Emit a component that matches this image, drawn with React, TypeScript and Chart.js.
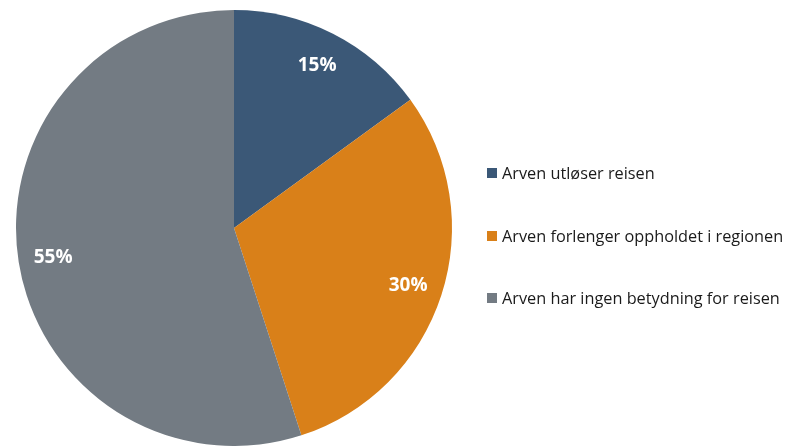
import React, { useEffect, useRef } from "react";
import { Chart, registerables } from "chart.js";
Chart.register(...registerables);

const categories = [
  "Arven utløser reisen",
  "Arven forlenger oppholdet i regionen",
  "Arven har ingen betydning for reisen",
];
const values = [15, 30, 55];
const colors = ["#3B5877", "#D98019", "#737B83"];

const sliceLabels = {
  id: "sliceLabels",
  afterDatasetsDraw(chart: any) {
    const { ctx } = chart;
    const meta = chart.getDatasetMeta(0);
    ctx.save();
    ctx.font = "bold 19px 'Open Sans'";
    ctx.fillStyle = "#ffffff";
    ctx.textAlign = "center";
    ctx.textBaseline = "middle";
    meta.data.forEach((arc: any, i: number) => {
      const p = arc.getProps(["startAngle", "endAngle", "outerRadius", "x", "y"], true);
      const mid = (p.startAngle + p.endAngle) / 2;
      const r = p.outerRadius * 0.84;
      ctx.fillText(values[i] + "%", p.x + Math.cos(mid) * r, p.y + Math.sin(mid) * r + 1);
    });
    ctx.restore();
  },
};

export default function App() {
  const ref = useRef<HTMLCanvasElement>(null);
  useEffect(() => {
    const chart = new Chart(ref.current!, {
      type: "pie",
      data: {
        labels: categories,
        datasets: [
          {
            data: values,
            backgroundColor: colors,
            borderWidth: 0,
          },
        ],
      },
      options: {
        animation: false,
        responsive: false,
        layout: { padding: { top: 10, bottom: -2, left: 15, right: 332 } },
        plugins: {
          tooltip: { enabled: false },
          legend: { display: false },
        },
      },
      plugins: [sliceLabels],
    });
    return () => chart.destroy();
  }, []);
  const legendY = [173, 236, 298];
  return (
    <div style={{ position: "fixed", left: 0, top: 0, width: 785, height: 446, background: "#fff", overflow: "hidden" }}>
      <canvas ref={ref} width={785} height={446} style={{ display: "block" }} />
      {categories.map((c, i) => (
        <div
          key={c}
          style={{
            position: "absolute",
            left: 487,
            top: legendY[i] - 10,
            height: 20,
            display: "flex",
            alignItems: "center",
            whiteSpace: "nowrap",
            fontFamily: "'Open Sans'",
            fontSize: 16.3,
            color: "#1a1a1a",
          }}
        >
          <span style={{ width: 10, height: 10, background: colors[i], display: "inline-block", marginRight: 5 }} />
          <span>{c}</span>
        </div>
      ))}
    </div>
  );
}
